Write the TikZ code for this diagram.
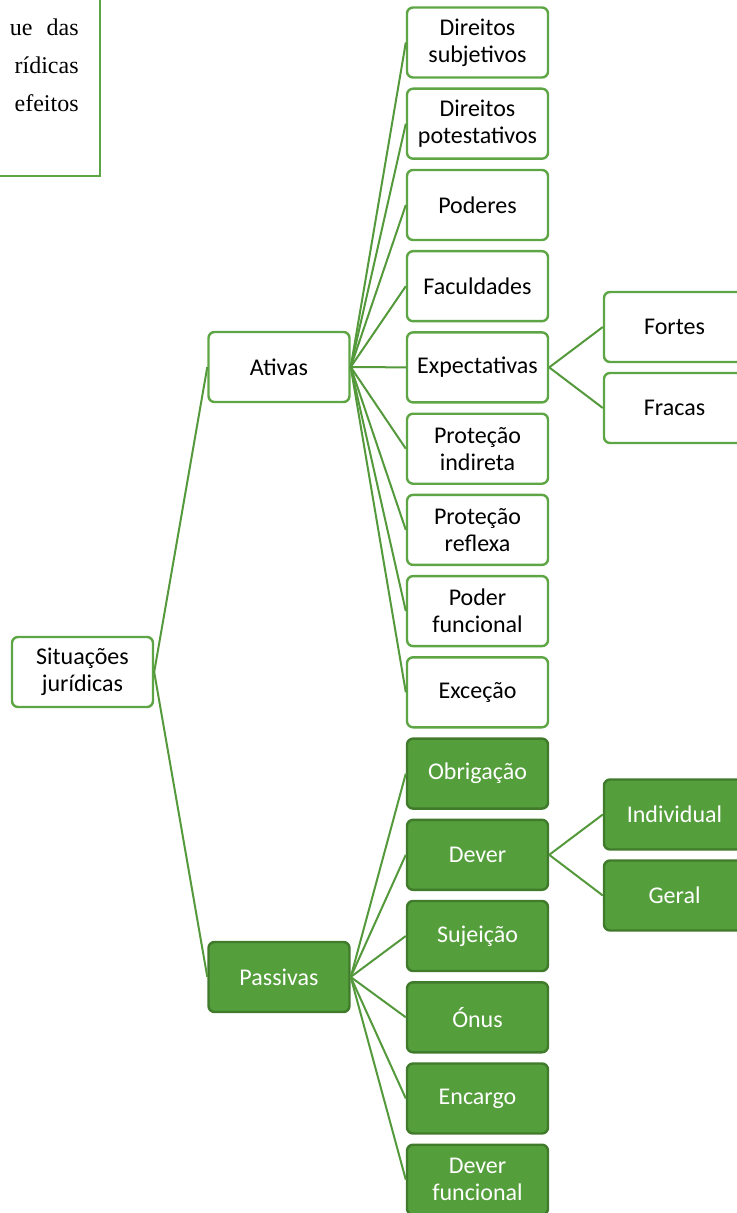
\documentclass[tikz,border=0pt]{standalone}
\usepackage{fontspec}
\usepackage{tikz}
\usetikzlibrary{positioning}
\setmainfont{Carlito}
\newfontfamily\textotimes{Liberation Serif}
\definecolor{mgreen}{rgb}{0.37, 0.65, 0.27}
\definecolor{lgreen}{rgb}{0.33, 0.60, 0.23}
\definecolor{fgreen}{rgb}{0.33, 0.62, 0.23}
\definecolor{dgreen}{rgb}{0.25, 0.48, 0.17}
\tikzset{ativa/.style = {draw = mgreen, line width = 1.2pt, fill = white, rounded corners = 3pt,
    minimum width = 70.5pt, minimum height = 35pt, inner sep = 1pt, align = center,
    font = \fontsize{12}{13.5}\selectfont}}
\tikzset{passiva/.style = {ativa, draw = dgreen, fill = fgreen, text = white}}
\tikzset{ramo/.style = {lgreen, line width = 1pt}}
\tikzset{serifa/.style = {anchor = base east, inner sep = 0, font = \textotimes\fontsize{12}{14}\selectfont}}

\begin{document}
\begin{tikzpicture}[x = 0.5pt, y = -0.5pt]
    \useasboundingbox (0, 0) rectangle (737, 1213);
    \clip (0, 0) rectangle (737, 1213);

    % caixa de texto cortada
    \draw [mgreen, line width = 1.2pt, fill = white] (-60, -60) rectangle (100, 176);
    \node [serifa] (t1) at (33, 36) {ue};
    \node [serifa] (t2) at (79, 36) {das};
    \node [serifa] (t3) at (79, 74) {rídicas};
    \node [serifa] (t4) at (79, 112) {efeitos};

    \node [ativa] (sit) at (82.5, 672) {Situações\\jurídicas};

    \node [ativa] (ativas) at (279, 367) {Ativas};
    \node [passiva] (passivas) at (279, 977) {Passivas};

    \node [ativa] (dsub) at (477.5, 42.5) {Direitos\\subjetivos};
    \node [ativa] (dpot) at (477.5, 123.7) {Direitos\\potestativos};
    \node [ativa] (pod) at (477.5, 205) {Poderes};
    \node [ativa] (fac) at (477.5, 286.2) {Faculdades};
    \node [ativa] (exp) at (477.5, 367.4) {Expectativas};
    \node [ativa] (pind) at (477.5, 448.7) {Proteção\\indireta};
    \node [ativa] (pref) at (477.5, 529.9) {Proteção\\reflexa};
    \node [ativa] (pfun) at (477.5, 611.1) {Poder\\funcional};
    \node [ativa] (exc) at (477.5, 692.3) {Exceção};

    \node [passiva] (obr) at (477.5, 773.6) {Obrigação};
    \node [passiva] (dev) at (477.5, 854.8) {Dever};
    \node [passiva] (suj) at (477.5, 936) {Sujeição};
    \node [passiva] (onus) at (477.5, 1017.3) {Ónus};
    \node [passiva] (enc) at (477.5, 1098.5) {Encargo};
    \node [passiva] (dfun) at (477.5, 1179.7) {Dever\\funcional};

    \node [ativa] (fortes) at (674.5, 327) {Fortes};
    \node [ativa] (fracas) at (674.5, 408) {Fracas};
    \node [passiva] (indiv) at (674.5, 814.5) {Individual};
    \node [passiva] (geral) at (674.5, 895.5) {Geral};

    \draw [ramo] (sit.east) -- (ativas.west);
    \draw [ramo] (sit.east) -- (passivas.west);

    \draw [ramo] (ativas.east) -- (dsub.west);
    \draw [ramo] (ativas.east) -- (dpot.west);
    \draw [ramo] (ativas.east) -- (pod.west);
    \draw [ramo] (ativas.east) -- (fac.west);
    \draw [ramo] (ativas.east) -- (exp.west);
    \draw [ramo] (ativas.east) -- (pind.west);
    \draw [ramo] (ativas.east) -- (pref.west);
    \draw [ramo] (ativas.east) -- (pfun.west);
    \draw [ramo] (ativas.east) -- (exc.west);

    \draw [ramo] (passivas.east) -- (obr.west);
    \draw [ramo] (passivas.east) -- (dev.west);
    \draw [ramo] (passivas.east) -- (suj.west);
    \draw [ramo] (passivas.east) -- (onus.west);
    \draw [ramo] (passivas.east) -- (enc.west);
    \draw [ramo] (passivas.east) -- (dfun.west);

    \draw [ramo] (exp.east) -- (fortes.west);
    \draw [ramo] (exp.east) -- (fracas.west);
    \draw [ramo] (dev.east) -- (indiv.west);
    \draw [ramo] (dev.east) -- (geral.west);
  \end{tikzpicture}
\end{document}
